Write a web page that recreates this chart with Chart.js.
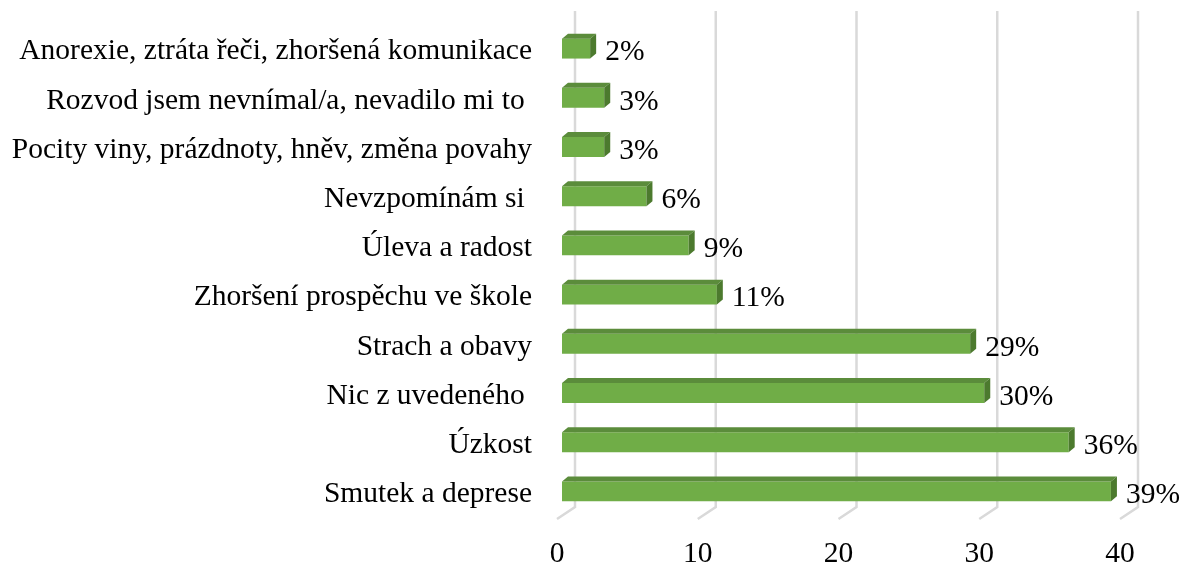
<!DOCTYPE html>
<html>
<head>
<meta charset="utf-8">
<script src="https://cdn.jsdelivr.net/npm/chart.js@4.4.0/dist/chart.umd.min.js"></script>
<style>
    html, body { margin: 0; padding: 0; background: #ffffff; }
    #wrap { width: 1183px; height: 565px; }
</style>
</head>
<body>
<div id="wrap"><canvas id="barChart"></canvas></div>
<script>
const categories = [
    'Anorexie, ztráta řeči, zhoršená komunikace',
    'Rozvod jsem nevnímal/a, nevadilo mi to ',
    'Pocity viny, prázdnoty, hněv, změna povahy',
    'Nevzpomínám si ',
    'Úleva a radost',
    'Zhoršení prospěchu ve škole',
    'Strach a obavy',
    'Nic z uvedeného ',
    'Úzkost',
    'Smutek a deprese'
];
const values = [2, 3, 3, 6, 9, 11, 29, 30, 36, 39];
const tickValues = [0, 10, 20, 30, 40];

const FONT = '"Liberation Serif", "Times New Roman", serif';
const FONT_SIZE = 29.5;

// fake 3D: back wall offset for the grid, small depth for the bars
const bar3d = {
    id: 'bar3d',
    beforeDatasetsDraw(chart) {
        const { ctx, chartArea, scales } = chart;
        ctx.save();
        ctx.strokeStyle = '#d9d9d9';
        ctx.lineWidth = 2.5;
        tickValues.forEach(v => {
            const x = scales.x.getPixelForValue(v);
            ctx.beginPath();
            ctx.moveTo(x + 18, chartArea.top - 16);
            ctx.lineTo(x + 18, chartArea.bottom - 12);
            ctx.lineTo(x, chartArea.bottom);
            ctx.stroke();
        });
        ctx.restore();
        ctx.save();
        ctx.translate(5, -3);
    },
    afterDatasetsDraw(chart) {
        const { ctx } = chart;
        const d = 6, e = 5;
        chart.getDatasetMeta(0).data.forEach(bar => {
            const top = bar.y - bar.height / 2;
            const bot = bar.y + bar.height / 2;
            ctx.fillStyle = '#5b8c3b';
            ctx.beginPath();
            ctx.moveTo(bar.base, top);
            ctx.lineTo(bar.x, top);
            ctx.lineTo(bar.x + d, top - e);
            ctx.lineTo(bar.base + d, top - e);
            ctx.closePath();
            ctx.fill();
            ctx.fillStyle = '#4c7a2e';
            ctx.beginPath();
            ctx.moveTo(bar.x, top);
            ctx.lineTo(bar.x + d, top - e);
            ctx.lineTo(bar.x + d, bot - e);
            ctx.lineTo(bar.x, bot);
            ctx.closePath();
            ctx.fill();
        });
        ctx.restore();

        ctx.save();
        ctx.font = FONT_SIZE + 'px ' + FONT;
        ctx.fillStyle = '#000000';
        ctx.textAlign = 'left';
        ctx.textBaseline = 'middle';
        chart.getDatasetMeta(0).data.forEach((bar, i) => {
            ctx.fillText(values[i] + '%', bar.x + 5 + d + 9, bar.y + 1);
        });
        ctx.restore();
    }
};

new Chart(document.getElementById('barChart'), {
    type: 'bar',
    data: {
        labels: categories,
        datasets: [{
            data: values,
            backgroundColor: '#70ad47',
            borderWidth: 0,
            barPercentage: 0.81,
            categoryPercentage: 0.5
        }]
    },
    options: {
        indexAxis: 'y',
        responsive: true,
        maintainAspectRatio: false,
        animation: false,
        layout: { padding: { top: 27, right: 63, bottom: 0, left: 0 } },
        plugins: {
            legend: { display: false },
            tooltip: { enabled: false }
        },
        scales: {
            x: {
                min: 0,
                max: 40,
                afterBuildTicks(scale) {
                    scale.ticks = tickValues.map(v => ({ value: v }));
                },
                afterFit(scale) {
                    scale.height = 46;
                    scale.paddingLeft = 0;
                    scale.paddingRight = 0;
                },
                grid: { display: false },
                border: { display: false },
                ticks: {
                    color: '#000000',
                    padding: 10,
                    font: { family: FONT, size: FONT_SIZE }
                }
            },
            y: {
                afterFit(scale) {
                    scale.width = 557;
                    scale.paddingTop = 0;
                    scale.paddingBottom = 0;
                },
                grid: { display: false },
                border: { display: false },
                ticks: {
                    color: '#000000',
                    padding: 17,
                    font: { family: FONT, size: FONT_SIZE }
                }
            }
        }
    },
    plugins: [bar3d]
});
</script>
</body>
</html>
